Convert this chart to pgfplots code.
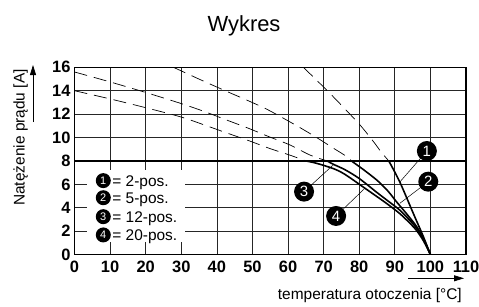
\documentclass[border=0pt]{standalone}
\usepackage{fontspec}
\setmainfont{Liberation Sans}
\usepackage{pgfplots}
\pgfplotsset{compat=1.18}
\usetikzlibrary{arrows.meta}

\begin{document}
\begin{tikzpicture}[x=1bp,y=1bp]
\path[use as bounding box] (0,0) rectangle (479,306);
\begin{axis}[
  at={(74.5bp,51.4bp)}, anchor=south west,
  scale only axis, width=391.5bp, height=187.3bp,
  xmin=0,xmax=110,ymin=0,ymax=16,
  xtick={0,10,...,110}, ytick={0,2,...,16},
  grid=major, major grid style={black!85, line width=0.7pt},
  axis line style={line width=1.2pt},
  major tick length=0pt,
  tick label style={font=\fontsize{16.5}{16.5}\selectfont\bfseries},
  xticklabel style={yshift=-3bp},
  yticklabel style={xshift=-0.5bp},
  /pgf/number format/assume math mode=true,
  clip=true,
]
% legend background
\fill[white] (axis cs:3.5,1.08) rectangle (axis cs:31,7.23);

% 8 A cap line
\addplot[black, line width=1.6pt] coordinates {(0,8) (110,8)};

% dashed (uncapped) parts
\addplot[black, line width=0.7pt, dash pattern=on 13bp off 7bp, smooth] coordinates {
 (64.3,16) (70.8,14.07) (75.5,12.6) (80.2,11.08) (84,9.65) (86.2,8.75) (88.3,8)};
\addplot[black, line width=0.7pt, dash pattern=on 13bp off 7bp, smooth] coordinates {
 (27.8,16) (35.3,14.95) (42.7,13.95) (48.4,13.2) (54.4,12.36) (61.9,11.1) (67.5,10.1) (72.7,9.1) (76.5,8.37) (77.8,8)};
\addplot[black, line width=0.7pt, dash pattern=on 13bp off 7bp, smooth] coordinates {
 (0,15.6) (10,14.75) (20,13.85) (30,12.9) (36.7,12.2) (42.7,11.5) (48.8,10.8) (54.4,10.1) (60.5,9.37) (66.2,8.5) (71,8)};
\addplot[black, line width=0.7pt, dash pattern=on 13bp off 7bp, smooth] coordinates {
 (0,14) (10,13.3) (20,12.55) (30,11.75) (36.7,11.05) (42.7,10.4) (48.8,9.75) (55,9.05) (60.5,8.5) (65,8)};

% solid derating curves
\addplot[black, line width=1.6pt, smooth] coordinates {
 (88.3,8) (91.4,6.2) (95.5,3.3) (98,1.55) (100,0)};
\addplot[black, line width=1.6pt, smooth] coordinates {
 (77.8,8) (81,7.3) (85,6.35) (88,5.45) (90.5,4.5) (93,3.6) (96,2.45) (98,1.4) (100,0)};
\addplot[black, line width=1.6pt, smooth] coordinates {
 (71,8) (72.7,7.72) (76,7.25) (80,6.5) (85,5.3) (88,4.6) (91.4,3.8) (94,3.0) (96,2.3) (98,1.35) (100,0)};
\addplot[black, line width=1.6pt, smooth] coordinates {
 (65,8) (68,7.8) (72.7,7.35) (76,6.85) (81.6,5.67) (85,4.95) (88,4.3) (91.4,3.5) (94,2.75) (96,2.1) (98,1.2) (100,0)};

% leader lines
\draw[line width=0.5pt] (axis cs:99,8.85) -- (axis cs:91.4,6.2);
\draw[line width=0.5pt] (axis cs:99.4,6.23) -- (axis cs:91.4,4.38);
\draw[line width=0.5pt] (axis cs:64.5,5.38) -- (axis cs:72.7,7.66);
\draw[line width=0.5pt] (axis cs:73.5,3.3) -- (axis cs:81.6,5.67);

% curve labels
\tikzset{lab/.style={circle, fill=black, text=white, inner sep=0pt, minimum size=20bp, font=\fontsize{15}{15}\selectfont}}
\node[lab] at (axis cs:99,8.85) {1};
\node[lab] at (axis cs:99.4,6.23) {2};
\node[lab] at (axis cs:64.5,5.38) {3};
\node[lab] at (axis cs:73.5,3.3) {4};

% legend
\tikzset{leg/.style={circle, fill=black, text=white, inner sep=0pt, minimum size=15bp, font=\fontsize{11}{11}\selectfont},
         legt/.style={anchor=base west, inner sep=0pt, yshift=-5.4bp, font=\fontsize{15.5}{15.5}\selectfont}}
\node[leg] at (axis cs:8.09,6.32) {1};
\node[legt] at (axis cs:10.6,6.32) {= 2-pos.};
\node[leg] at (axis cs:8.09,4.86) {2};
\node[legt] at (axis cs:10.6,4.86) {= 5-pos.};
\node[leg] at (axis cs:8.09,3.24) {3};
\node[legt] at (axis cs:10.6,3.24) {= 12-pos.};
\node[leg] at (axis cs:8.09,1.68) {4};
\node[legt] at (axis cs:10.6,1.68) {= 20-pos.};
\end{axis}

% title and axis labels
\node[anchor=base, font=\fontsize{22}{22}\selectfont] at (244,275) {Wykres};
\node[anchor=base, rotate=90, inner sep=0pt, font=\fontsize{15.5}{15.5}\selectfont] at (24.5,168.5) {Natężenie prądu [A]};
\draw[-{Triangle[length=10bp,width=6bp]}, line width=0.8pt] (33,184) -- (33,241);
\node[anchor=base east, inner sep=0pt, font=\fontsize{15.5}{15.5}\selectfont] at (462,7) {temperatura otoczenia [°C]};
\draw[-{Triangle[length=10bp,width=6bp]}, line width=0.8pt] (408,27.7) -- (464,27.7);
\end{tikzpicture}
\end{document}
